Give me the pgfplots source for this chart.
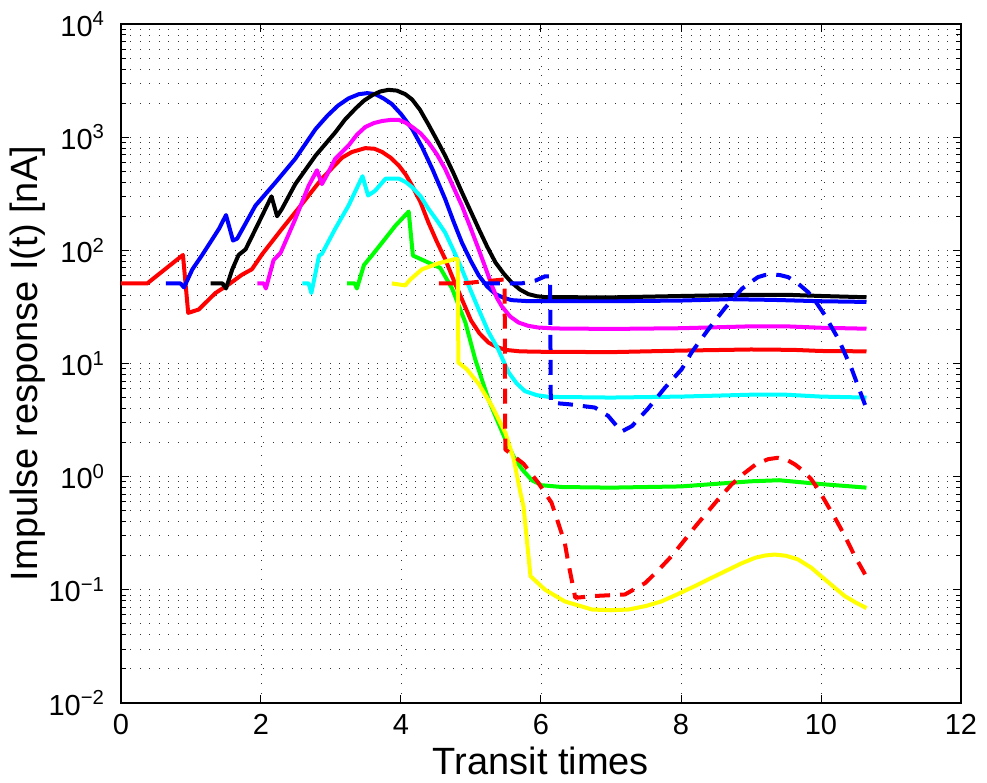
\documentclass[border=0pt]{standalone}
\usepackage{pgfplots}
\pgfplotsset{compat=1.18}
\usepackage{fontspec}
\setmainfont{Liberation Sans}
\definecolor{mred}{rgb}{1,0,0}
\definecolor{mblue}{rgb}{0,0,1}
\definecolor{mgreen}{rgb}{0,1,0}
\definecolor{mcyan}{rgb}{0,1,1}
\definecolor{mmagenta}{rgb}{1,0,1}
\definecolor{myellow}{rgb}{1,1,0}
\begin{document}
\begin{tikzpicture}
\useasboundingbox (-60.5pt,-40pt) rectangle (433pt,351.5pt);
\begin{axis}[
  at={(0,0)}, anchor=south west,
  scale only axis, width=420pt, height=339.5pt,
  ymode=log, xmin=0, xmax=12, ymin=1e-2, ymax=1e4,
  xtick={0,2,4,6,8,10,12}, xticklabels={0,2,4,6,8,10,12},
  ytick={1e-2,1e-1,1,10,100,1000,10000},
  yticklabels={10\textsuperscript{−2},10\textsuperscript{−1},10\textsuperscript{0},10\textsuperscript{1},10\textsuperscript{2},10\textsuperscript{3},10\textsuperscript{4}},
  minor ytick={0.02,0.03,0.04,0.05,0.06,0.07,0.08,0.09,0.2,0.3,0.4,0.5,0.6,0.7,0.8,0.9,2,3,4,5,6,7,8,9,20,30,40,50,60,70,80,90,200,300,400,500,600,700,800,900,2000,3000,4000,5000,6000,7000,8000,9000},
  xmajorgrids, ymajorgrids, yminorgrids,
  major grid style={line width=0.45pt, dash pattern=on 0.45pt off 4.3pt, black!80},
  minor grid style={line width=0.45pt, dash pattern=on 0.45pt off 4.3pt, black!80},
  axis line style={line width=0.6pt},
  tick style={line width=0.5pt, black},
  major tick length=4pt, minor tick length=2.5pt,
  tick align=inside,
  tick label style={font=\fontsize{14.5}{17}\selectfont},
  xticklabel style={yshift=-2pt},
  yticklabel style={xshift=-4.5pt},
  xlabel={Transit times},
  ylabel={Impulse response I(t) [nA]},
  every axis x label/.style={at={(axis description cs:0.5,-0.0847)}, anchor=center, font=\fontsize{19}{22}\selectfont},
  every axis y label/.style={at={(axis description cs:-0.1107,0.5)}, anchor=center, rotate=90, font=\fontsize{19}{22}\selectfont},
  every axis plot/.append style={line width=2pt, line join=round},
]
% red solid
\addplot[mred] coordinates {(0,51)(0.375,51)(0.885,91)(0.96,28)(1.11,30)(1.35,42)(1.54,50)(1.73,61)(1.87,68)(2.02,93)(2.30,155)(2.59,259)(2.87,430)(3.16,660)(3.3,740)(3.49,800)(3.62,790)(3.73,740)(3.85,660)(3.97,560)(4.07,465)(4.16,372)(4.28,265)(4.39,177)(4.51,120)(4.63,84)(4.75,55)(4.87,37)(5.0,24)(5.12,18.5)(5.25,15.3)(5.37,14)(5.49,13.2)(5.7,12.8)(6.0,12.7)(7,12.6)(8,13.0)(9,13.3)(9.6,13.2)(10,12.9)(10.65,12.8)};
% blue solid
\addplot[mblue] coordinates {(0.64,51)(0.85,51)(0.90,47)(1.02,68)(1.16,91)(1.40,155)(1.50,205)(1.60,122)(1.66,127)(1.92,248)(2.21,400)(2.49,645)(2.78,1180)(2.95,1550)(3.10,1900)(3.25,2200)(3.40,2400)(3.52,2450)(3.63,2400)(3.75,2200)(3.87,1960)(4.0,1600)(4.16,1180)(4.3,820)(4.45,520)(4.63,285)(4.75,180)(4.87,117)(5.0,80)(5.11,60)(5.23,48)(5.35,41)(5.47,38)(5.58,36.3)(5.8,35.6)(6.06,35.5)(7,35.5)(8,36)(8.7,37)(9.3,36.5)(10,35.5)(10.65,35)};
% black
\addplot[black] coordinates {(1.28,51)(1.45,51)(1.50,46)(1.59,68)(1.68,91)(1.78,102)(1.97,177)(2.15,300)(2.23,200)(2.30,233)(2.49,385)(2.78,688)(3.06,1100)(3.2,1430)(3.35,1790)(3.47,2100)(3.59,2350)(3.7,2530)(3.82,2620)(3.94,2580)(4.06,2400)(4.16,2150)(4.27,1750)(4.39,1300)(4.51,950)(4.63,688)(4.75,480)(4.87,326)(4.99,225)(5.11,155)(5.23,108)(5.35,78)(5.47,62)(5.58,52)(5.70,45)(5.82,41)(5.94,39.3)(6.06,38.6)(7,38.4)(8,39.5)(9,40.5)(9.5,40.5)(10,39.5)(10.65,38.5)};
% magenta
\addplot[mmagenta] coordinates {(1.95,51)(2.04,51)(2.07,46)(2.18,82)(2.28,95)(2.49,189)(2.68,372)(2.80,510)(2.87,385)(2.94,460)(3.06,645)(3.25,843)(3.37,1050)(3.49,1230)(3.61,1330)(3.73,1390)(3.85,1420)(3.97,1420)(4.07,1340)(4.16,1230)(4.28,1080)(4.39,903)(4.51,710)(4.63,525)(4.75,360)(4.87,248)(4.99,160)(5.11,102)(5.2,72)(5.30,48.6)(5.37,38)(5.44,32)(5.56,26)(5.68,23)(5.82,21.5)(5.96,20.8)(6.2,20.4)(7,20.2)(8,20.5)(9,21.3)(9.5,21.3)(10,20.7)(10.65,20.3)};
% cyan
\addplot[mcyan] coordinates {(2.59,51)(2.68,51)(2.72,42)(2.83,90)(2.87,93)(3.06,155)(3.25,248)(3.45,452)(3.53,305)(3.63,336)(3.78,430)(3.97,430)(4.07,400)(4.16,361)(4.28,300)(4.39,234)(4.51,185)(4.63,144)(4.75,100)(4.87,68)(4.99,45)(5.11,30)(5.25,19)(5.39,13.3)(5.47,10.3)(5.54,8.3)(5.65,6.7)(5.77,5.7)(5.94,5.25)(6.11,5.07)(7,5.0)(8,5.1)(9,5.3)(9.5,5.3)(10,5.1)(10.65,5.0)};
% green
\addplot[mgreen] coordinates {(3.23,51)(3.34,51)(3.37,46)(3.47,74)(3.59,91)(3.73,117)(3.92,165)(4.11,220)(4.17,90)(4.39,78)(4.56,70)(4.73,46)(4.92,23)(5.06,10.9)(5.25,4.8)(5.37,3.2)(5.49,2.14)(5.61,1.5)(5.73,1.16)(5.87,0.93)(6.01,0.84)(6.3,0.81)(7,0.80)(8,0.82)(9,0.91)(9.4,0.93)(10,0.86)(10.65,0.80)};
% yellow
\addplot[myellow] coordinates {(3.87,51)(4.06,49)(4.13,55)(4.30,68)(4.54,77)(4.78,84)(4.81,83)(4.82,10.2)(4.94,8.9)(5.11,6.6)(5.30,4.2)(5.49,2.45)(5.61,1.43)(5.70,0.75)(5.75,0.547)(5.85,0.132)(6.06,0.1)(6.34,0.079)(6.73,0.067)(7.0,0.066)(7.25,0.067)(7.5,0.072)(7.72,0.079)(7.96,0.092)(8.20,0.108)(8.44,0.128)(8.68,0.151)(8.87,0.172)(9.06,0.192)(9.2,0.201)(9.34,0.205)(9.5,0.2)(9.67,0.186)(9.86,0.157)(10.06,0.123)(10.2,0.104)(10.34,0.088)(10.5,0.077)(10.65,0.069)};
% red dashed
\addplot[mred, dash pattern=on 7.5pt off 5pt] coordinates {(4.54,51)(4.87,51)(5.44,55)(5.48,55)(5.49,1.74)(5.75,1.3)(5.96,0.885)(6.15,0.59)(6.34,0.26)(6.39,0.173)(6.49,0.085)(6.73,0.088)(7.20,0.091)(7.49,0.115)(7.68,0.15)(7.87,0.2)(8.04,0.27)(8.20,0.36)(8.37,0.48)(8.53,0.63)(8.72,0.85)(8.91,1.08)(9.08,1.3)(9.25,1.43)(9.39,1.47)(9.52,1.4)(9.63,1.28)(9.75,1.12)(9.86,0.95)(9.98,0.74)(10.10,0.55)(10.22,0.41)(10.34,0.30)(10.48,0.2)(10.63,0.137)};
% blue dashed
\addplot[mblue, dash pattern=on 7.5pt off 5pt] coordinates {(5.20,51)(5.72,51)(5.92,54)(6.06,59)(6.13,59)(6.14,4.5)(6.39,4.37)(6.77,4.08)(6.96,3.44)(7.15,2.5)(7.30,2.8)(7.53,4.0)(7.77,6.1)(8.01,8.9)(8.15,12.5)(8.39,20)(8.63,31)(8.87,45.7)(8.99,52)(9.10,58)(9.2,60.5)(9.29,61)(9.41,60.5)(9.53,58)(9.67,51)(9.82,42.5)(9.94,34)(10.06,26.5)(10.15,21)(10.25,16.4)(10.34,12.3)(10.44,8.9)(10.53,6.3)(10.63,4.3)};
\end{axis}
\end{tikzpicture}
\end{document}
